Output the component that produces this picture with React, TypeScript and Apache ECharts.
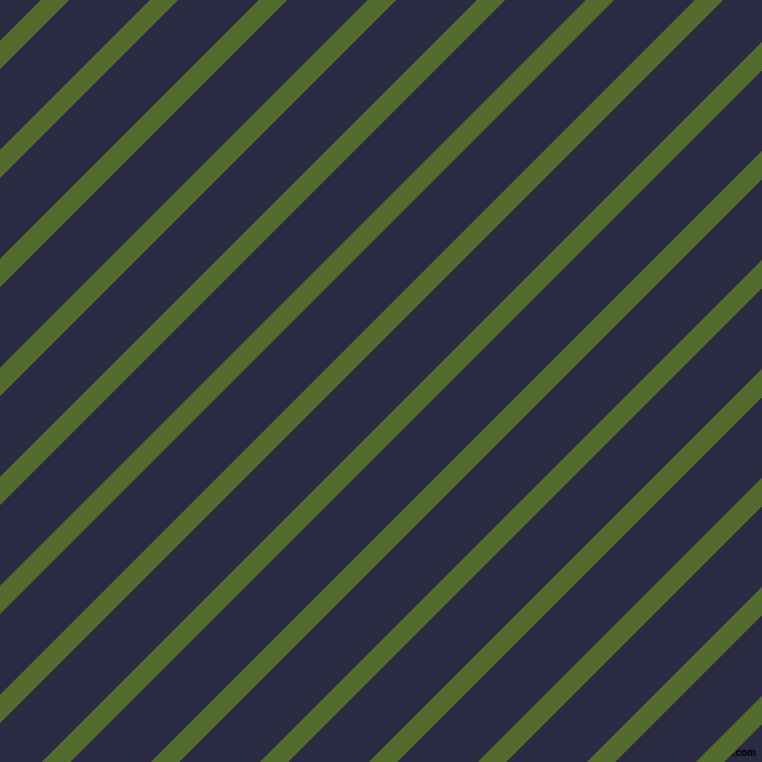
import React, { useEffect, useRef } from "react";
import * as echarts from "echarts";

// Stripe centre positions, measured as x + y (pixels) along the 45° diagonal
const stripeOffsets = [55, 164, 273, 382, 491, 600, 709, 818, 927, 1036, 1145, 1254, 1363, 1472];
// Horizontal width of each stripe (in axis units)
const stripeWidths = [28.5, 28.5, 28.5, 28.5, 28.5, 28.5, 28.5, 28.5, 28.5, 28.5, 28.5, 28.5, 28.5, 28.5];
const watermark = "pixlis.com";

const BG = "#2a2a42";
const STRIPE = "#546b2e";

export default function App() {
  const ref = useRef<HTMLDivElement>(null);
  useEffect(() => {
    if (!ref.current) return;
    const chart = echarts.init(ref.current, null, { renderer: "svg" });
    const data = stripeOffsets.map((c, i) => [c, stripeWidths[i]]);
    chart.setOption({
      animation: false,
      backgroundColor: BG,
      grid: { left: 0, right: 0, top: 0, bottom: 0 },
      xAxis: { type: "value", min: 0, max: 762, show: false },
      yAxis: { type: "value", min: 0, max: 762, inverse: true, show: false },
      series: [
        {
          type: "custom",
          clip: true,
          data,
          renderItem: (params: any, api: any) => {
            const c = api.value(0);
            const hw = api.value(1) / 2;
            const ext = 200;
            const a = c - hw;
            const b = c + hw;
            const pts = [
              api.coord([a + ext, -ext]),
              api.coord([-ext, a + ext]),
              api.coord([-ext, b + ext]),
              api.coord([b + ext, -ext]),
            ];
            return {
              type: "polygon",
              shape: { points: pts },
              style: { fill: STRIPE },
            };
          },
        },
      ],
      graphic: [
        {
          type: "text",
          right: 6,
          bottom: 5,
          style: {
            text: watermark,
            fill: "#000000",
            font: "bold 10px 'Liberation Sans'",
          },
        },
      ],
    });
    return () => chart.dispose();
  }, []);
  return (
    <div
      ref={ref}
      style={{ position: "fixed", left: 0, top: 0, width: 762, height: 762 }}
    />
  );
}
